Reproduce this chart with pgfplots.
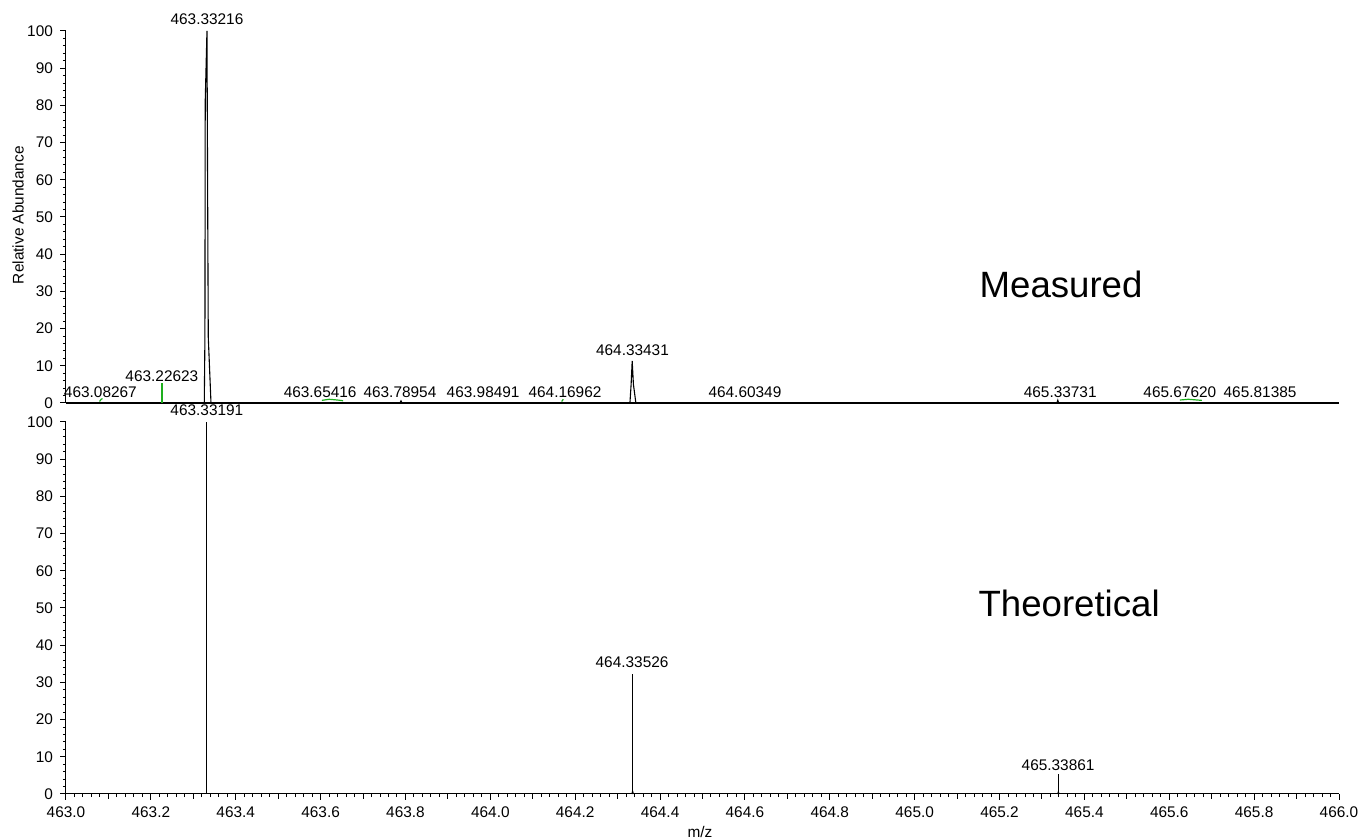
\documentclass[border=0pt]{standalone}
\usepackage{pgfplots}
\pgfplotsset{compat=1.18}
\usepackage{fontspec}
\setmainfont{Liberation Sans}
\definecolor{cgreen}{RGB}{30,175,30}
\newcommand{\lab}{\fontsize{7.7}{9}\selectfont}
\begin{document}
\begin{tikzpicture}
\path[use as bounding box] (0,0) rectangle (680pt,420pt);
\pgfplotsset{
  common/.style={
    scale only axis, width=636.5pt, height=186pt,
    anchor=south west,
    xmin=463, xmax=466, ymin=0, ymax=100,
    axis x line*=bottom, axis y line*=left,
    axis line style={black, line width=0.5pt},
    tick align=outside, tick style={black, line width=0.5pt},
    major tick length=3pt, minor tick length=1.6pt,
    ytick={0,10,...,100}, minor ytick={0,2,...,100},
    tick label style={font=\lab},
    /pgf/number format/assume math mode=true,
    clip=false,
  },
}
% ---------- Measured ----------
\begin{axis}[common, at={(33pt,218.5pt)}, xtick=\empty,
  ylabel={Relative Abundance},
  every axis y label/.style={at={(axis description cs:-0.0377,0.505)}, rotate=90, anchor=center, font=\lab}]
\addplot[black, line width=0.9pt] coordinates {(463,0) (466,0)};
\addplot[black, line width=0.55pt] coordinates {(463.3259,0) (463.3274,17.7) (463.3281,81) (463.3322,100) (463.3339,53.6) (463.3353,17.7) (463.3417,0)};
\addplot[black, line width=0.55pt] coordinates {(464.3290,0) (464.3318,5) (464.3343,11.3) (464.3372,5) (464.3430,0)};
\addplot[black, line width=0.5pt] coordinates {(463.7870,0) (463.7895,0.6) (463.7920,0)};
\addplot[black, line width=0.5pt] coordinates {(465.3350,0) (465.3373,0.8) (465.3395,0)};
\addplot[color=cgreen, line width=0.6pt] coordinates {(463.22623,0) (463.22623,5.4)};
\addplot[color=cgreen, line width=0.6pt] coordinates {(463.079,0.4) (463.083,1.0) (463.086,1.2)};
\addplot[color=cgreen, line width=0.6pt] coordinates {(463.603,0.7) (463.620,1.0) (463.640,0.8) (463.653,0.6)};
\addplot[color=cgreen, line width=0.6pt] coordinates {(464.168,0.4) (464.172,1.0)};
\addplot[color=cgreen, line width=0.6pt] coordinates {(465.625,0.8) (465.645,1.0) (465.677,0.7)};
\node[font=\lab, anchor=center] at (axis cs:463.3322,103.2) {463.33216};
\node[font=\lab, anchor=center] at (axis cs:463.081,2.95) {463.08267};
\node[font=\lab, anchor=center] at (axis cs:463.226,7.2) {463.22623};
\node[font=\lab, anchor=center] at (axis cs:463.599,2.95) {463.65416};
\node[font=\lab, anchor=center] at (axis cs:463.787,2.95) {463.78954};
\node[font=\lab, anchor=center] at (axis cs:463.983,2.95) {463.98491};
\node[font=\lab, anchor=center] at (axis cs:464.176,2.95) {464.16962};
\node[font=\lab, anchor=center] at (axis cs:464.335,14.2) {464.33431};
\node[font=\lab, anchor=center] at (axis cs:464.600,2.95) {464.60349};
\node[font=\lab, anchor=center] at (axis cs:465.343,2.95) {465.33731};
\node[font=\lab, anchor=center] at (axis cs:465.625,2.95) {465.67620};
\node[font=\lab, anchor=center] at (axis cs:465.814,2.95) {465.81385};
\node[font=\fontsize{18.3}{22}\selectfont, anchor=center] at (axis cs:465.345,31.9) {Measured};
\end{axis}
% ---------- Theoretical ----------
\begin{axis}[common, at={(33pt,23pt)},
  xtick={463,463.2,...,466.01},
  minor xtick={463,463.02,...,466.001},
  xticklabel style={/pgf/number format/.cd, fixed, fixed zerofill, precision=1, 1000 sep={}},
  extra x ticks={463.1,463.3,463.5,463.7,463.9,464.1,464.3,464.5,464.7,464.9,465.1,465.3,465.5,465.7,465.9},
  extra x tick labels={},
  extra x tick style={major tick length=2.3pt},
  xlabel={m/z},
  every axis x label/.style={at={(axis description cs:0.498,-0.102)}, anchor=center, font=\lab}]
\addplot[black, line width=0.5pt, ycomb] coordinates {(463.33191,100) (464.33526,32.3) (465.33861,5.4)};
\addplot[black, line width=0.5pt] coordinates {(464.3335,0) (464.3353,0.8) (464.3372,0)};
\addplot[black, line width=0.5pt] coordinates {(465.3370,0) (465.3386,0.6) (465.3402,0)};
\node[font=\lab, anchor=center] at (axis cs:463.332,103.2) {463.33191};
\node[font=\lab, anchor=center] at (axis cs:464.334,35.5) {464.33526};
\node[font=\lab, anchor=center] at (axis cs:465.338,7.8) {465.33861};
\node[font=\fontsize{18.3}{22}\selectfont, anchor=center] at (axis cs:465.364,51.1) {Theoretical};
\end{axis}
\end{tikzpicture}
\end{document}
